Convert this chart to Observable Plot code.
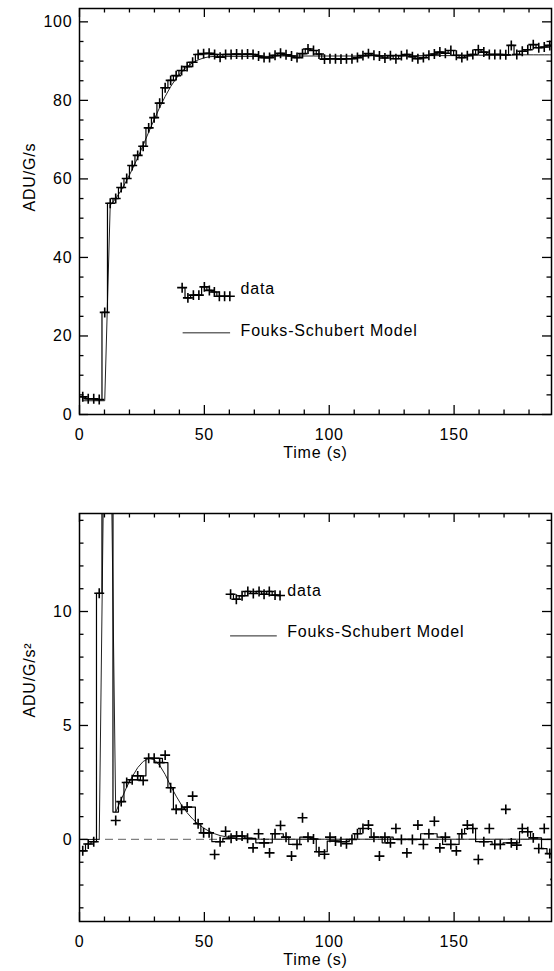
<!DOCTYPE html>
<html>
<head>
<meta charset="utf-8">
<script src="https://cdn.jsdelivr.net/npm/d3@7"></script>
<script src="https://cdn.jsdelivr.net/npm/@observablehq/plot@0.6"></script>
<style>
  html, body { margin: 0; padding: 0; background: #fff; }
  #chart svg { display: block; }
</style>
</head>
<body>
<div id="chart"></div>
<script>
// ---------- data ----------
const time = [1.3,3.5,5.7,7.9,10.1,12.3,14.5,16.7,18.9,21.1,23.3,25.5,27.7,29.9,32.1,34.3,36.5,38.7,40.9,43.1,
  45.3,47.5,49.7,51.9,54.1,56.3,58.5,60.7,62.9,65.1,67.3,69.5,71.7,73.9,76.1,78.3,80.5,82.7,84.9,87.1,
  89.3,91.5,93.7,95.9,98.1,100.3,102.5,104.7,106.9,109.1,111.3,113.5,115.7,117.9,120.1,122.3,124.5,126.7,128.9,131.1,
  133.3,135.5,137.7,139.9,142.1,144.3,146.5,148.7,150.9,153.1,155.3,157.5,159.7,161.9,164.1,166.3,168.5,170.7,172.9,175.1,
  177.3,179.5,181.7,183.9,186.1,188.3,190.5];

// ADU/G/s  (top panel)
const rateData = [4.5,4.0,4.0,3.8,26.0,
  53.8,55.0,57.8,60.1,63.4,66.0,68.3,73.0,75.6,79.3,83.2,85.1,86.3,87.6,88.6,89.7,91.7,91.9,92.0,
  91.7,91.0,91.7,91.7,91.8,91.7,91.8,91.7,91.3,90.9,90.9,91.5,92.0,91.6,91.3,90.9,91.9,93.1,92.7,91.8,
  90.5,90.6,90.6,90.5,90.6,90.6,90.9,91.4,91.9,91.5,91.3,90.8,91.4,90.6,91.4,91.7,91.1,90.6,90.9,91.5,
  91.8,92.3,92.0,92.7,91.5,90.9,91.4,91.7,92.9,92.3,91.7,91.7,91.7,91.6,94.0,91.7,92.5,92.9,94.2,93.4,93.6,94.0,
  93.8];
const rateModel = [3.5,3.5,3.5,3.5,3.5,
  53.3,55.0,57.1,59.6,62.4,65.4,68.6,71.9,75.1,78.2,81.0,83.5,85.6,87.3,88.6,89.6,90.3,90.8,91.1,
  91.2,91.2,91.2,91.2,91.2,91.2,91.2,91.2,91.2,91.2,91.2,91.2,
  91.3,91.3,91.3,91.3,91.3,91.3,91.3,91.3,91.3,91.3,91.3,91.3,91.3,91.3,91.3,91.3,91.3,
  91.4,91.4,91.4,91.4,91.4,91.4,91.4,91.4,91.4,91.4,91.4,91.4,91.4,91.4,91.4,91.4,
  91.5,91.5,91.5,91.5,91.5,91.5,91.5,91.5,91.5,91.5,
  91.6,91.6,91.6,91.6,91.6,91.6,91.6,91.6];

// ADU/G/s²  (bottom panel): raw points
const accelData = [-0.5,-0.2,-0.1,10.8,18.0,16.0,
  0.83,1.66,2.50,2.62,2.79,2.59,3.56,3.56,3.37,3.70,2.27,1.32,1.32,1.42,1.90,0.69,0.29,0.29,-0.66,-0.10,0.36,0.05,0.15,0.15,
  0.05,-0.37,0.25,-0.15,-0.59,0.25,0.61,0.10,-0.73,-0.22,0.95,0.10,0.02,-0.54,-0.65,0.10,-0.07,-0.10,-0.19,0.00,
  0.25,0.48,0.63,0.10,-0.73,0.10,-0.15,
  0.48,0.00,-0.59,0.00,0.63,-0.22,0.25,0.80,-0.37,0.10,-0.22,-0.50,0.25,0.63,0.48,-0.88,-0.10,0.48,-0.22,-0.22,
  1.32,-0.15,-0.25,0.48,0.34,0.07,-0.40,0.48,-0.62,
  -1.75];
// ADU/G/s²: filtered histogram line
const accelSmooth = [-0.5,-0.2,-0.1,10.8,16.0,16.0,
  1.2,1.66,2.50,2.62,2.62,2.79,3.56,3.56,3.56,3.37,2.27,1.32,1.32,1.42,1.42,0.69,0.29,0.29,-0.10,-0.10,0.05,0.15,0.15,0.15,
  0.05,0.05,-0.15,-0.15,-0.15,0.25,0.25,0.10,-0.22,-0.22,0.10,0.10,0.02,-0.54,-0.54,-0.07,-0.07,-0.10,-0.10,0.00,
  0.25,0.48,0.48,0.10,0.10,-0.15,0.10,
  0.00,0.00,0.00,0.00,0.00,0.25,0.25,0.25,0.10,-0.22,-0.22,-0.22,0.25,0.48,0.48,-0.10,-0.10,-0.10,-0.22,-0.22,
  -0.15,-0.15,-0.15,0.34,0.34,0.07,0.07,-0.40,-0.62,
  -1.75];
const accelModel = [0,0,0,0,20,20,
  1.2,1.75,2.3,2.75,3.15,3.42,3.55,3.5,3.25,2.85,2.35,1.9,1.5,1.17,0.9,0.68,0.5,0.36,0.25,0.17,0.12,0.08,0.05,0.03,0.02,
  0.01,0.01,0.01,0.01,0.01,0.01,0.01,0.01,0.01,0.01,0.01,0.01,0.01,0.01,0.01,0.01,0.01,0.01,0.01,0.01,
  0.01,0.01,0.01,0.01,0.01,0.01,0.01,0.01,0.01,0.01,0.01,0.01,0.01,0.01,0.01,0.01,0.01,0.01,0.01,0.01,
  0.01,0.01,0.01,0.01,0.01,0.01,0.01,0.01,0.01,0.01,0.01,0.01,0.01,0.01,0.01,0.01];

// legend samples (drawn in data space, as in the original)
const legendRateTime  = [41.1,43.4,45.6,47.8,50.0,52.0,54.0,56.0,58.1,60.2];
const legendRateValue = [32.3,29.7,30.4,30.4,32.5,31.6,31.2,30.1,30.1,30.1];
const legendAccelTime  = [60.5,62.8,65.1,67.4,69.6,71.9,73.9,76.0,78.3,80.3];
const legendAccelValue = [10.76,10.54,10.69,10.88,10.79,10.88,10.76,10.88,10.72,10.70];

// ticks
const xMajor = [0,50,100,150];
const xMinor = [10,20,30,40,60,70,80,90,110,120,130,140,160,170,180];
const rateMajor = [0,20,40,60,80,100];
const rateMinor = [5,10,15,25,30,35,45,50,55,65,70,75,85,90,95];
const accelMajor = [0,5,10];
const accelMinor = [-3,-2,-1,1,2,3,4,6,7,8,9,11,12,13,14];

const labels = {
  x: "Time (s)",
  rate: "ADU/G/s",
  accel: "ADU/G/s²",
  data: "data",
  model: "Fouks-Schubert Model"
};

// ---------- drawing ----------
const FONT = "'Liberation Sans', Arial, Helvetica, sans-serif";
const W = 554, ML = 79, MR = 3;

function panel(cfg) {
  const innerW = W - ML - MR;
  const innerH = cfg.height - cfg.marginTop - cfg.marginBottom;
  const rows = time.map((t, i) => ({t, d: cfg.data[i], s: cfg.step[i], m: cfg.model[i]}));
  const leg = cfg.legT.map((t, i) => ({t, v: cfg.legV[i]}));
  const maj = 9, min = 4.5;
  const txt = {fontSize: 16, fill: "black"};
  return Plot.plot({
    width: W, height: cfg.height,
    marginLeft: ML, marginRight: MR, marginTop: cfg.marginTop, marginBottom: cfg.marginBottom,
    x: {domain: [0, 189]},
    y: {domain: cfg.yDomain},
    style: {fontFamily: FONT, fontSize: "16px", letterSpacing: "0.8px", color: "black", background: "white", overflow: "visible"},
    marks: [
      cfg.zero ? Plot.ruleY([0], {stroke: "#808080", strokeWidth: 1.3, strokeDasharray: "8,5"}) : null,
      Plot.line(rows, {x: "t", y: "m", stroke: "#222", strokeWidth: 1, clip: true}),
      Plot.line(rows, {x: "t", y: "s", curve: "step", stroke: "black", strokeWidth: 1.2, clip: true}),
      Plot.dot(rows, {x: "t", y: "d", symbol: "plus", r: 3.3, stroke: "black", strokeWidth: 1.6, clip: true}),
      // legend
      Plot.line(leg, {x: "t", y: "v", curve: "step", stroke: "black", strokeWidth: 1.2}),
      Plot.dot(leg, {x: "t", y: "v", symbol: "plus", r: 3.3, stroke: "black", strokeWidth: 1.6}),
      Plot.ruleY([cfg.legModel.y], {x1: cfg.legModel.x1, x2: cfg.legModel.x2, stroke: "#222", strokeWidth: 1}),
      Plot.text([labels.data], {x: cfg.legText.x, y: cfg.legText.yData, text: d => d, textAnchor: "start", lineAnchor: "middle", ...txt}),
      Plot.text([labels.model], {x: cfg.legText.x, y: cfg.legText.yModel, text: d => d, textAnchor: "start", lineAnchor: "middle", ...txt}),
      // inward ticks on all four sides
      Plot.tickX(xMajor, {x: d => d, insetTop: innerH - maj, strokeWidth: 1.3}),
      Plot.tickX(xMinor, {x: d => d, insetTop: innerH - min, strokeWidth: 1.3}),
      Plot.tickX(xMajor, {x: d => d, insetBottom: innerH - maj, strokeWidth: 1.3}),
      Plot.tickX(xMinor, {x: d => d, insetBottom: innerH - min, strokeWidth: 1.3}),
      Plot.tickY(cfg.yMajor, {y: d => d, insetRight: innerW - maj, strokeWidth: 1.3}),
      Plot.tickY(cfg.yMinor, {y: d => d, insetRight: innerW - min, strokeWidth: 1.3}),
      Plot.tickY(cfg.yMajor, {y: d => d, insetLeft: innerW - maj, strokeWidth: 1.3}),
      Plot.tickY(cfg.yMinor, {y: d => d, insetLeft: innerW - min, strokeWidth: 1.3}),
      // tick labels
      Plot.axisX(xMajor, {tickSize: 0, tickPadding: 14, label: null, fontSize: 16}),
      Plot.axisY(cfg.yMajor, {tickSize: 0, tickPadding: 7, label: null, fontSize: 16}),
      // titles
      Plot.text([labels.x], {frameAnchor: "bottom", dy: 32, text: d => d, lineAnchor: "top", ...txt}),
      Plot.text([cfg.yTitle], {frameAnchor: "left", dx: -50, rotate: -90, text: d => d, lineAnchor: "middle", ...txt}),
      Plot.frame({stroke: "black", strokeWidth: 1.5})
    ]
  });
}

const chart = document.getElementById("chart");
chart.append(panel({
  height: 485, marginTop: 8, marginBottom: 71,
  yDomain: [0, 103.4], yMajor: rateMajor, yMinor: rateMinor, yTitle: labels.rate,
  data: rateData, step: rateData, model: rateModel, zero: false,
  legT: legendRateTime, legV: legendRateValue,
  legModel: {x1: 41.5, x2: 60.5, y: 20.8},
  legText: {x: 64.5, yData: 32.0, yModel: 21.4}
}));
chart.append(panel({
  height: 486, marginTop: 28, marginBottom: 50,
  yDomain: [-3.6, 14.3], yMajor: accelMajor, yMinor: accelMinor, yTitle: labels.accel,
  data: accelData, step: accelSmooth, model: accelModel, zero: true,
  legT: legendAccelTime, legV: legendAccelValue,
  legModel: {x1: 60.5, x2: 79.2, y: 8.93},
  legText: {x: 83.2, yData: 10.9, yModel: 9.12}
}));
</script>
</body>
</html>
